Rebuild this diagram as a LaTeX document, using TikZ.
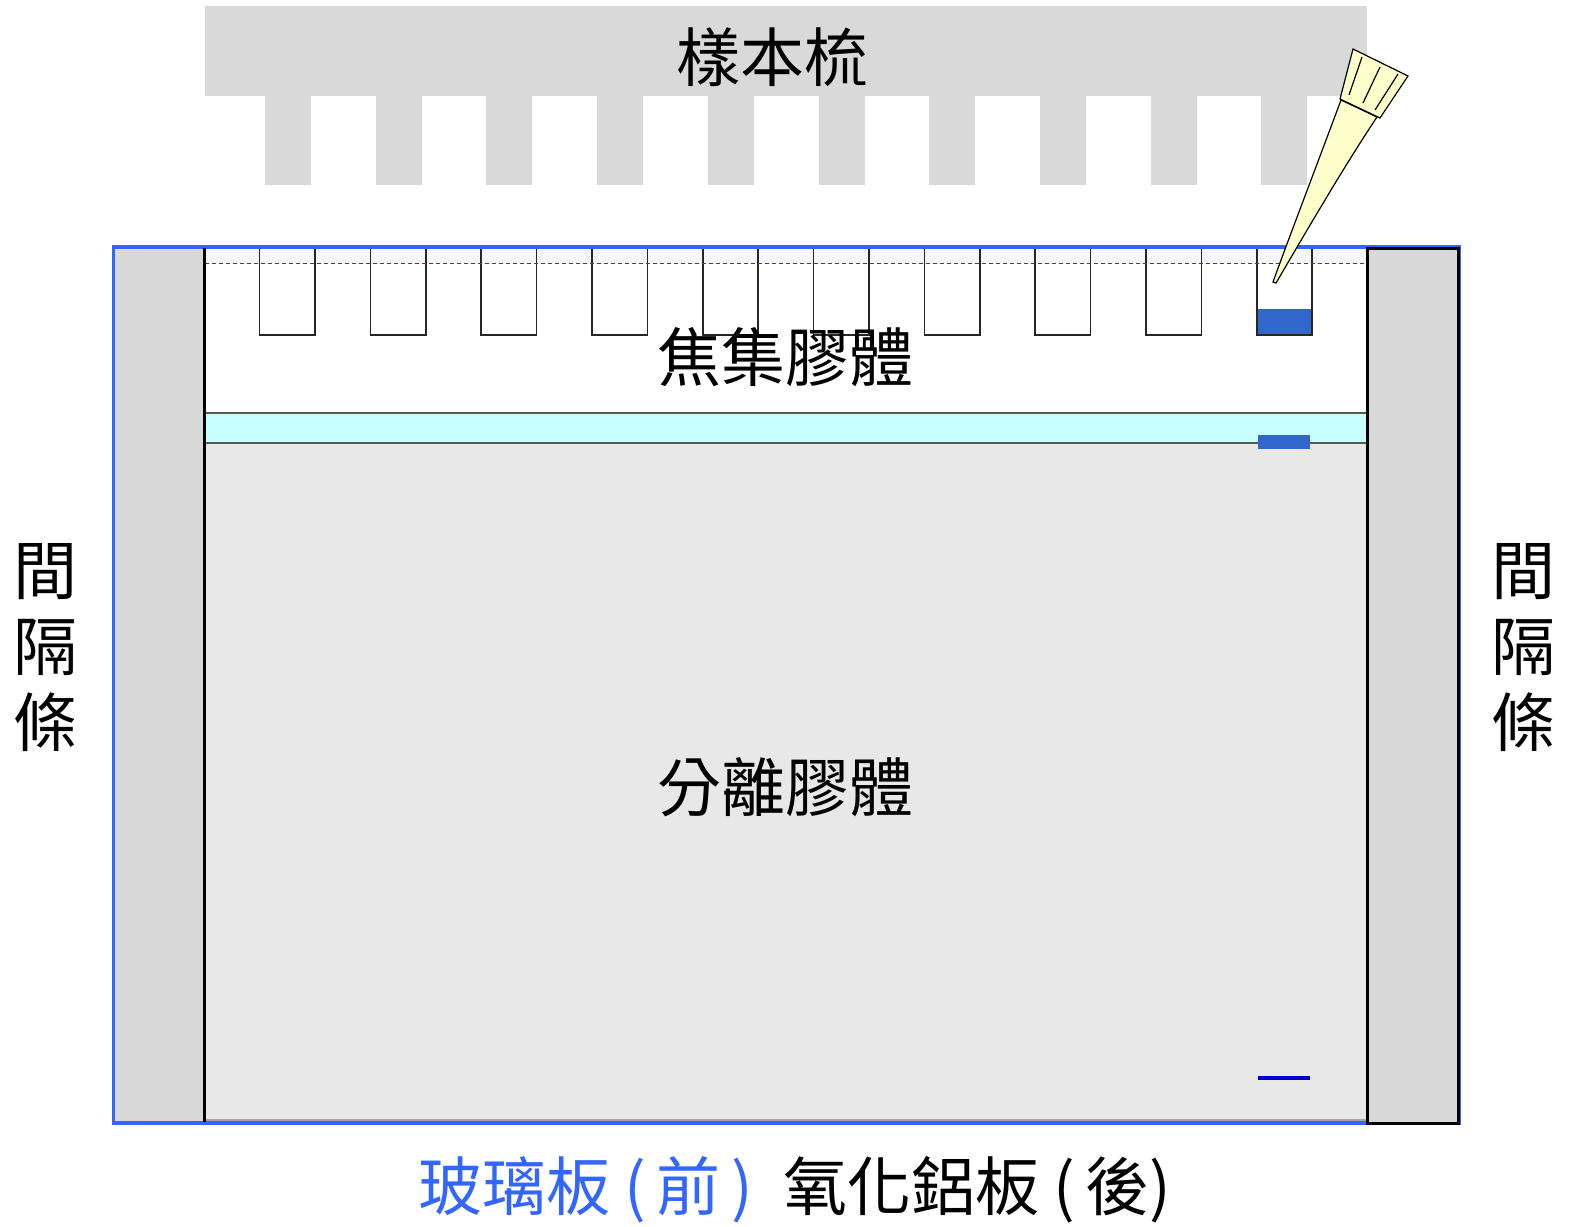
\documentclass[tikz,border=0pt]{standalone}
\usepackage{fontspec}
\newfontfamily\cjk{Noto Sans CJK TC}
\definecolor{combgrey}{HTML}{D9D9D9}
\definecolor{spacergrey}{HTML}{D8D8D8}
\definecolor{frameblue}{HTML}{3366FF}
\definecolor{stackcyan}{HTML}{C8FFFF}
\definecolor{resolvegrey}{HTML}{E8E8E8}
\definecolor{sampleblue}{HTML}{3366CC}
\definecolor{frontblue}{HTML}{0000CC}
\definecolor{tipyellow}{HTML}{FFFFCC}
\definecolor{markpurple}{HTML}{9900CC}
\tikzset{
  label/.style={font=\cjk\fontsize{32pt}{38pt}\selectfont, inner sep=0pt},
  wellline/.style={draw=black!85, line width=0.8pt},
  spacerbox/.style={fill=spacergrey, draw=black, line width=1.5pt},
  bandedge/.style={draw=black!65, line width=0.7pt},
}
\begin{document}
\begin{tikzpicture}[x=0.5pt,y=-0.5pt]
  \useasboundingbox (0,0) rectangle (1571,1227);

  % sample comb
  \fill[combgrey] (205,6) rectangle (1367,96);
  \foreach \i in {0,...,9}
    \fill[combgrey] ({265+110.7*\i},95) rectangle ({311+110.7*\i},185);
  \node[label] (comb) at (772,57) {樣本梳};

  % stacking gel
  \fill[white] (205,248) rectangle (1366,413);
  \fill[black!3] (205,249) rectangle (1366,263);
  % stacking / resolving interface band
  \fill[stackcyan] (205,413) rectangle (1366,443);
  % resolving gel
  \fill[resolvegrey] (205,443) rectangle (1366,1121);
  \draw[black!35, line width=1pt] (205,1120) -- (1366,1120);
  \draw[bandedge] (205,413) -- (1366,413);
  \draw[bandedge] (205,443) -- (1366,443);

  % wells
  \foreach \i in {0,...,9}
    \draw[wellline] ({259.5+110.8*\i},249) |- ({315+110.8*\i},335) -- ({315+110.8*\i},249);
  % gel top level
  \draw[markpurple, line width=0.5pt, dash pattern=on 2pt off 1.5pt] (205,263) -- (1366,263);

  % loaded sample and its migration
  \fill[sampleblue] (1258,309) rectangle (1311,334);
  \fill[sampleblue] (1258,435) rectangle (1310,449);
  \draw[frontblue, line width=1.6pt] (1258,1078) -- (1310,1078);

  % glass plate outline
  \draw[frameblue, line width=2pt] (114,247) rectangle (1459,1123);
  % spacers
  \fill[spacergrey] (115,249) rectangle (204,1121);
  \draw[black, line width=1.5pt] (204,248) -- (204,1122);
  \draw[spacerbox] (1367,248) rectangle (1458,1123);

  % pipette tip
  \draw[fill=tipyellow, line width=0.6pt]
    (1341,100) .. controls (1315,170) and (1290,235) .. (1273,282)
    -- (1276,283) .. controls (1310,225) and (1345,165) .. (1377,117) -- cycle;
  \draw[fill=tipyellow, line width=0.6pt]
    (1353,49) -- (1408,76) -- (1380,118) -- (1340,99) -- cycle;
  \draw[line width=0.6pt] (1362,57) -- (1349,95);
  \draw[line width=0.6pt] (1380,67) -- (1363,103);
  \draw[line width=0.6pt] (1398,74) -- (1375,110);

  % labels
  \node[label] (stack) at (785,357) {焦集膠體};
  \node[label] (resolve) at (785,787) {分離膠體};
  \node[label, align=center] (spacerL) at (45,648) {間\\隔\\條};
  \node[label, align=center] (spacerR) at (1523,648) {間\\隔\\條};
  \node[label, anchor=west, text=frameblue] (front) at (418,1190) {玻璃板 (\,前\,)};
  \node[label, anchor=west] (back) at (783,1190) {氧化鋁板 (\,後)};
\end{tikzpicture}
\end{document}
